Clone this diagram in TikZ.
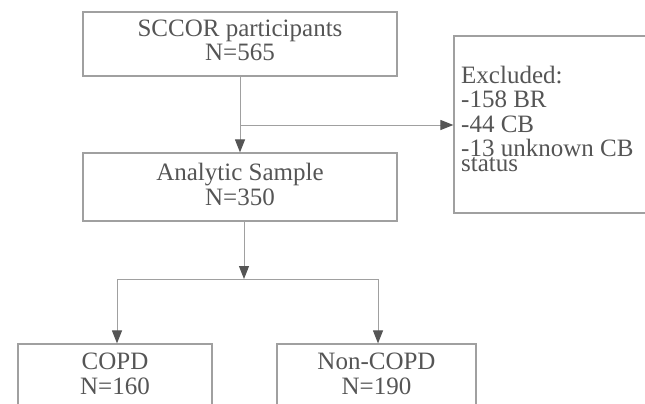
\documentclass[tikz,border=0pt]{standalone}
\usepackage{fontspec}
\setmainfont{Liberation Serif}
\usetikzlibrary{arrows.meta}
\definecolor{linegray}{HTML}{A0A0A0}
\definecolor{txtgray}{HTML}{555555}
\definecolor{tipgray}{HTML}{555555}
\begin{document}
\begin{tikzpicture}[x=1pt,y=-1pt,
  box/.style={draw=linegray,line width=1.2pt,fill=white,inner sep=0pt},
  boxtext/.style={text=txtgray,align=center,font=\fontsize{25}{24.5}\selectfont,inner sep=0pt},
  conn/.style={draw=linegray,line width=1pt},
  arr/.style={conn,-{Triangle[length=13pt,width=10pt,fill=tipgray,color=tipgray]}}
]
\useasboundingbox (0,0) rectangle (645,404);
\begin{scope}
\clip (0,0) rectangle (645,404);
\node[box,minimum width=314pt,minimum height=64pt] (top) at (240,44) {};
\node[boxtext] (toptxt) at (240,40.5) {SCCOR participants\\N=565};
\node[box,minimum width=314pt,minimum height=68pt] (ana) at (240,187) {};
\node[boxtext] (anatxt) at (240,184.5) {Analytic Sample\\N=350};
\node[box,minimum width=194pt,minimum height=68pt] (copd) at (115,378) {};
\node[boxtext] (copdtxt) at (115,374) {COPD\\N=160};
\node[box,minimum width=199pt,minimum height=68pt] (non) at (376.5,378) {};
\node[boxtext] (nontxt) at (376.5,374) {Non-COPD\\N=190};
\node[box,minimum width=220pt,minimum height=177pt] (exc) at (564,124.5) {};
\node[boxtext,align=left,anchor=base west] (exctxt) at (461,171.8)
  {Excluded:\\-158 BR\\-44 CB\\-13 unknown CB\\[-9.5pt]status};
\coordinate (split) at (240,125);
\coordinate (fork) at (244,279);
\coordinate (forkL) at (117,279);
\coordinate (forkR) at (378,279);
\draw[arr] (top.south) -- (ana.north);
\draw[arr] (split) -- (split -| exc.west);
\draw[arr] (ana.south -| fork) -- (fork);
\draw[conn] (forkL) -- (forkR);
\draw[arr] (forkL) -- (forkL |- copd.north);
\draw[arr] (forkR) -- (forkR |- non.north);
\end{scope}
\end{tikzpicture}
\end{document}
